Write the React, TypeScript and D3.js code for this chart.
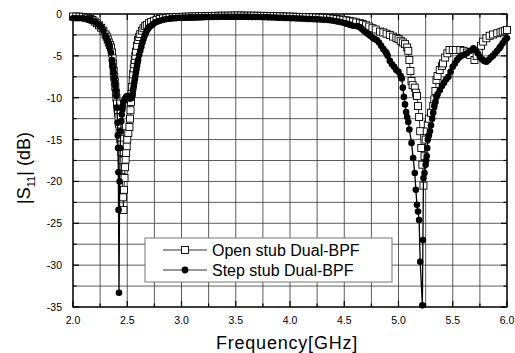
import React from "react";
import * as d3 from "d3";

const xTicks = [2.0, 2.5, 3.0, 3.5, 4.0, 4.5, 5.0, 5.5, 6.0];
const yTicks = [0, -5, -10, -15, -20, -25, -30, -35];
const seriesNames = ["Open stub Dual-BPF", "Step stub Dual-BPF"];

// Open stub Dual-BPF: [frequency GHz, |S11| dB]
const openStub: [number, number][] = [
  [2.0, -0.3], [2.03, -0.3], [2.06, -0.32], [2.09, -0.35], [2.12, -0.42], [2.14, -0.5], [2.16, -0.6],
  [2.18, -0.72], [2.2, -0.9], [2.22, -1.1], [2.24, -1.35], [2.26, -1.65], [2.28, -2.0], [2.3, -2.45],
  [2.31, -2.7], [2.32, -3.05], [2.33, -3.4], [2.34, -3.7], [2.35, -4.0], [2.36, -4.6], [2.365, -5.3],
  [2.37, -6.0], [2.375, -6.8], [2.38, -7.5], [2.385, -8.1], [2.39, -8.7], [2.395, -9.4], [2.4, -10.0],
  [2.405, -10.7], [2.41, -11.3], [2.415, -11.8], [2.42, -12.3], [2.425, -13.2], [2.43, -14.2],
  [2.435, -14.9], [2.44, -15.6], [2.445, -16.5], [2.45, -17.5], [2.455, -19.5], [2.46, -21.9],
  [2.465, -23.4], [2.47, -21.0], [2.475, -19.6], [2.48, -18.3], [2.485, -17.4], [2.49, -16.6],
  [2.495, -15.8], [2.5, -15.0], [2.51, -14.2], [2.52, -13.5], [2.525, -12.5], [2.53, -11.5],
  [2.535, -10.5], [2.54, -9.5], [2.545, -8.7], [2.55, -7.9], [2.555, -7.2], [2.56, -6.5], [2.565, -6.0],
  [2.57, -5.5], [2.575, -5.0], [2.58, -4.5], [2.59, -3.8], [2.6, -3.1], [2.61, -2.75], [2.62, -2.4],
  [2.635, -2.0], [2.65, -1.7], [2.665, -1.45], [2.68, -1.3], [2.7, -1.1], [2.72, -0.95], [2.745, -0.82],
  [2.77, -0.7], [2.8, -0.6], [2.83, -0.52], [2.86, -0.46], [2.89, -0.42], [2.92, -0.4], [2.95, -0.37],
  [2.98, -0.35], [3.01, -0.33], [3.04, -0.32], [3.07, -0.3], [3.1, -0.3], [3.13, -0.28], [3.16, -0.28],
  [3.19, -0.26], [3.22, -0.25], [3.25, -0.24], [3.28, -0.23], [3.31, -0.22], [3.34, -0.21], [3.37, -0.2],
  [3.4, -0.2], [3.43, -0.2], [3.46, -0.19], [3.49, -0.18], [3.52, -0.18], [3.55, -0.18], [3.58, -0.19],
  [3.61, -0.2], [3.64, -0.2], [3.67, -0.2], [3.7, -0.21], [3.73, -0.22], [3.76, -0.22], [3.79, -0.23],
  [3.82, -0.24], [3.85, -0.25], [3.88, -0.26], [3.91, -0.27], [3.94, -0.29], [3.97, -0.3], [4.0, -0.31],
  [4.03, -0.32], [4.06, -0.34], [4.09, -0.35], [4.12, -0.36], [4.15, -0.37], [4.18, -0.39], [4.21, -0.4],
  [4.24, -0.42], [4.27, -0.43], [4.3, -0.45], [4.34, -0.48], [4.37, -0.5], [4.4, -0.55], [4.43, -0.6],
  [4.46, -0.65], [4.49, -0.7], [4.52, -0.75], [4.55, -0.82], [4.58, -0.9], [4.61, -1.0], [4.645, -1.1],
  [4.67, -1.2], [4.7, -1.35], [4.73, -1.5], [4.76, -1.7], [4.79, -1.85], [4.83, -2.1], [4.86, -2.2],
  [4.89, -2.35], [4.92, -2.5], [4.95, -2.7], [4.98, -2.85], [5.0, -3.0], [5.02, -3.2], [5.04, -3.4],
  [5.06, -3.6], [5.08, -4.0], [5.09, -4.4], [5.1, -5.5], [5.11, -6.8], [5.12, -8.0], [5.13, -8.5],
  [5.15, -8.8], [5.16, -9.4], [5.17, -9.8], [5.18, -11.0], [5.19, -12.3], [5.2, -14.0], [5.21, -16.0],
  [5.22, -18.0], [5.23, -20.5], [5.24, -17.0], [5.25, -15.0], [5.26, -14.0], [5.27, -13.2], [5.28, -12.5],
  [5.3, -11.8], [5.32, -11.0], [5.33, -10.2], [5.34, -9.2], [5.35, -7.9], [5.36, -7.4], [5.38, -6.7],
  [5.4, -6.2], [5.41, -5.9], [5.43, -5.2], [5.45, -4.7], [5.47, -4.3], [5.5, -4.3], [5.53, -4.3],
  [5.57, -4.3], [5.6, -4.4], [5.63, -4.6], [5.66, -4.9], [5.7, -5.5], [5.72, -5.0], [5.74, -4.4],
  [5.76, -3.8], [5.78, -3.3], [5.81, -2.9], [5.84, -2.6], [5.87, -2.45], [5.91, -2.3], [5.94, -2.2],
  [5.96, -2.1], [5.98, -2.0], [6.0, -1.9],
];

// Step stub Dual-BPF: [frequency GHz, |S11| dB]
const stepStub: [number, number][] = [
  [2.0, -0.5], [2.03, -0.5], [2.06, -0.5], [2.09, -0.52], [2.12, -0.6], [2.14, -0.65], [2.16, -0.7],
  [2.18, -0.8], [2.2, -0.9], [2.22, -1.1], [2.24, -1.3], [2.26, -1.6], [2.28, -2.0], [2.3, -2.6],
  [2.31, -2.9], [2.32, -3.2], [2.33, -3.5], [2.34, -3.9], [2.35, -4.6], [2.36, -5.5], [2.365, -6.0],
  [2.37, -6.5], [2.375, -7.0], [2.38, -7.6], [2.385, -8.1], [2.39, -8.6], [2.395, -9.2], [2.4, -9.8],
  [2.405, -11.2], [2.41, -13.0], [2.413, -14.5], [2.415, -16.0], [2.418, -18.9], [2.42, -23.4],
  [2.424, -33.3], [2.43, -20.0], [2.435, -16.0], [2.44, -14.0], [2.445, -12.8], [2.45, -12.0],
  [2.455, -11.4], [2.46, -11.0], [2.47, -10.4], [2.48, -10.1], [2.49, -9.9], [2.5, -9.8], [2.51, -9.9],
  [2.52, -10.1], [2.53, -10.1], [2.54, -10.0], [2.545, -9.8], [2.55, -9.5], [2.555, -9.0], [2.56, -8.6],
  [2.565, -8.2], [2.57, -7.8], [2.575, -7.4], [2.58, -7.0], [2.585, -6.6], [2.59, -6.2], [2.595, -5.8],
  [2.6, -5.5], [2.61, -4.9], [2.62, -4.4], [2.63, -3.9], [2.64, -3.4], [2.65, -3.0], [2.66, -2.6],
  [2.67, -2.3], [2.68, -2.0], [2.69, -1.8], [2.7, -1.6], [2.72, -1.4], [2.74, -1.2], [2.76, -1.0],
  [2.78, -0.9], [2.8, -0.8], [2.83, -0.7], [2.86, -0.6], [2.9, -0.5], [2.93, -0.48], [2.96, -0.46],
  [2.99, -0.45], [3.02, -0.43], [3.05, -0.42], [3.08, -0.4], [3.11, -0.4], [3.14, -0.38], [3.17, -0.38],
  [3.2, -0.37], [3.23, -0.36], [3.26, -0.35], [3.29, -0.35], [3.32, -0.34], [3.35, -0.34], [3.38, -0.33],
  [3.41, -0.33], [3.44, -0.32], [3.47, -0.32], [3.5, -0.32], [3.53, -0.32], [3.56, -0.33], [3.59, -0.33],
  [3.62, -0.34], [3.65, -0.35], [3.68, -0.35], [3.71, -0.36], [3.74, -0.37], [3.77, -0.38], [3.8, -0.4],
  [3.83, -0.41], [3.86, -0.42], [3.89, -0.44], [3.92, -0.45], [3.95, -0.47], [3.98, -0.48], [4.01, -0.5],
  [4.04, -0.51], [4.07, -0.53], [4.1, -0.55], [4.13, -0.57], [4.16, -0.59], [4.19, -0.6], [4.22, -0.62],
  [4.25, -0.64], [4.28, -0.66], [4.31, -0.68], [4.34, -0.7], [4.37, -0.74], [4.4, -0.8], [4.43, -0.88],
  [4.46, -0.95], [4.49, -1.05], [4.52, -1.15], [4.55, -1.27], [4.58, -1.4], [4.62, -1.45], [4.64, -1.55],
  [4.66, -1.75], [4.68, -2.0], [4.7, -2.2], [4.72, -2.4], [4.74, -2.6], [4.76, -2.8], [4.78, -3.0],
  [4.8, -3.1], [4.82, -3.4], [4.84, -3.8], [4.86, -4.2], [4.88, -4.5], [4.89, -4.7], [4.9, -5.0],
  [4.92, -5.6], [4.94, -6.0], [4.96, -6.3], [4.98, -6.7], [5.0, -6.9], [5.02, -7.4], [5.03, -7.7],
  [5.04, -8.8], [5.05, -9.9], [5.06, -10.8], [5.07, -11.7], [5.08, -12.3], [5.09, -12.9], [5.1, -13.8],
  [5.12, -15.4], [5.135, -17.2], [5.15, -19.0], [5.16, -21.0], [5.17, -22.8], [5.18, -23.6], [5.19, -24.6],
  [5.2, -29.6], [5.22, -34.8], [5.225, -27.0], [5.23, -19.6], [5.24, -19.0], [5.25, -18.0], [5.255, -17.5],
  [5.26, -17.0], [5.265, -16.0], [5.27, -15.0], [5.28, -14.5], [5.29, -14.0], [5.3, -13.3], [5.31, -12.5],
  [5.32, -11.8], [5.33, -11.0], [5.34, -10.5], [5.35, -9.9], [5.36, -9.6], [5.38, -9.1], [5.4, -8.6],
  [5.42, -8.2], [5.44, -7.8], [5.46, -7.5], [5.48, -6.9], [5.5, -6.3], [5.52, -5.9], [5.54, -5.5],
  [5.56, -5.2], [5.58, -5.0], [5.6, -4.9], [5.63, -4.7], [5.66, -4.4], [5.69, -4.1], [5.71, -4.3],
  [5.73, -4.7], [5.75, -5.1], [5.77, -5.4], [5.79, -5.6], [5.81, -5.7], [5.83, -5.5], [5.85, -5.2],
  [5.87, -5.0], [5.89, -4.7], [5.91, -4.4], [5.93, -4.1], [5.94, -3.9], [5.96, -3.5], [5.98, -3.1],
  [6.0, -2.9],
];

const W = 515;
const H = 353;
const L = 73, R = 507, T = 14, B = 307;

export default function App() {
  const x = d3.scaleLinear().domain([2, 6]).range([L, R]);
  const y = d3.scaleLinear().domain([-35, 0]).range([B, T]);
  const line = d3.line<[number, number]>().x((d) => x(d[0])).y((d) => y(d[1]));
  const xGrid = d3.range(2, 6.001, 0.25);
  const yGrid = d3.range(-35, 0.001, 2.5);
  const font = "'Liberation Sans', Arial, sans-serif";
  const clipId = "plotclip";
  const sq = 7;

  return (
    <svg width={W} height={H} style={{ position: "absolute", left: 0, top: 0, background: "#fff" }}>
      <defs>
        <clipPath id={clipId}>
          <rect x={L - 5} y={T - 5} width={R - L + 10} height={B - T + 10} />
        </clipPath>
      </defs>
      {/* grid */}
      {xGrid.map((v, i) => (
        <line key={"gx" + i} x1={x(v)} x2={x(v)} y1={T} y2={B} stroke="#333" strokeWidth={0.8} />
      ))}
      {yGrid.map((v, i) => (
        <line key={"gy" + i} x1={L} x2={R} y1={y(v)} y2={y(v)} stroke="#333" strokeWidth={0.8} />
      ))}
      {/* ticks */}
      {xGrid.map((v, i) => {
        const major = Math.abs(v * 2 - Math.round(v * 2)) < 1e-6;
        const len = major ? 6 : 3.5;
        return (
          <g key={"tx" + i}>
            <line x1={x(v)} x2={x(v)} y1={B} y2={B - len} stroke="#000" strokeWidth={1.2} />
            <line x1={x(v)} x2={x(v)} y1={T} y2={T + len} stroke="#000" strokeWidth={1.2} />
          </g>
        );
      })}
      {yGrid.map((v, i) => {
        const major = Math.abs(v / 5 - Math.round(v / 5)) < 1e-6;
        const len = major ? 6 : 3.5;
        return (
          <g key={"ty" + i}>
            <line x1={L} x2={L + len} y1={y(v)} y2={y(v)} stroke="#000" strokeWidth={1.2} />
            <line x1={R} x2={R - len} y1={y(v)} y2={y(v)} stroke="#000" strokeWidth={1.2} />
          </g>
        );
      })}
      {/* frame */}
      <rect x={L} y={T} width={R - L} height={B - T} fill="none" stroke="#000" strokeWidth={1.3} />

      {/* tick labels */}
      {xTicks.map((v) => (
        <text key={"xl" + v} x={x(v)} y={B + 17} textAnchor="middle" fontFamily={font} fontSize={10.5} fill="#000">
          {v.toFixed(1)}
        </text>
      ))}
      {yTicks.map((v) => (
        <text key={"yl" + v} x={L - 11} y={y(v) + 4} textAnchor="end" fontFamily={font} fontSize={10.5} fill="#000">
          {v}
        </text>
      ))}

      {/* series */}
      <g clipPath={`url(#${clipId})`}>
        <path d={line(openStub) || ""} fill="none" stroke="#000" strokeWidth={0.8} />
        {openStub.map((d, i) => (
          <rect key={"s" + i} x={x(d[0]) - sq / 2} y={y(d[1]) - sq / 2} width={sq} height={sq} fill="#fff" stroke="#000" strokeWidth={0.9} />
        ))}
        <path d={line(stepStub) || ""} fill="none" stroke="#000" strokeWidth={1.3} />
        {stepStub.map((d, i) => (
          <circle key={"c" + i} cx={x(d[0])} cy={y(d[1])} r={3.3} fill="#000" />
        ))}
      </g>

      {/* legend */}
      <rect x={145} y={238} width={247} height={44} fill="#fff" stroke="#777" strokeWidth={1} />
      <line x1={163} x2={207} y1={250} y2={250} stroke="#000" strokeWidth={0.8} />
      <rect x={185 - sq / 2} y={250 - sq / 2} width={sq} height={sq} fill="#fff" stroke="#000" strokeWidth={0.9} />
      <text x={212} y={256} fontFamily={font} fontSize={16} fill="#000">{seriesNames[0]}</text>
      <line x1={163} x2={207} y1={270} y2={270} stroke="#000" strokeWidth={0.8} />
      <circle cx={185} cy={270} r={3.4} fill="#000" />
      <text x={212} y={276} fontFamily={font} fontSize={16} fill="#000">{seriesNames[1]}</text>

      {/* axis titles */}
      <text x={287} y={349} textAnchor="middle" fontFamily={font} fontSize={18} letterSpacing={0.8} fill="#000">
        Frequency[GHz]
      </text>
      <text transform="translate(30,168) rotate(-90)" textAnchor="middle" fontFamily={font} fontSize={18} fill="#000">
        |S<tspan fontSize={11} dy={5}>11</tspan><tspan dy={-5}>| (dB)</tspan>
      </text>
    </svg>
  );
}
